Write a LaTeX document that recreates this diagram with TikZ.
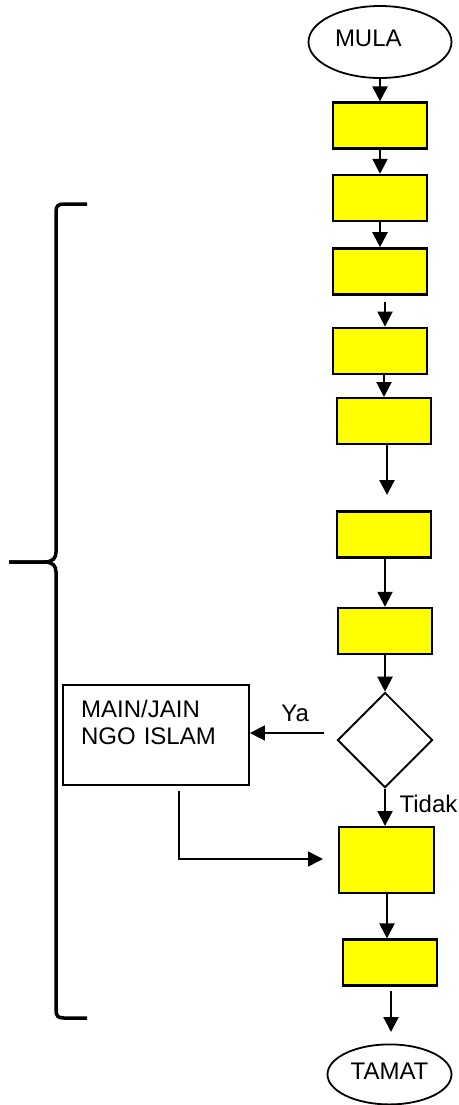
\documentclass[tikz,border=0pt]{standalone}
\usepackage{fontspec}
\setmainfont{Liberation Sans}
\usetikzlibrary{positioning,shapes.geometric,arrows.meta}
\definecolor{procyellow}{RGB}{255,255,0}

\begin{document}
\begin{tikzpicture}[x=1pt, y=-1pt,
            font=\fontsize{24}{27}\selectfont,
            termnode/.style={ellipse, draw, line width=1.8pt, minimum width=143pt, minimum height=72pt, inner sep=0pt, text height=17pt, text depth=7pt},
            procnode/.style={rectangle, draw, fill=procyellow, line width=2.4pt, minimum width=93.5pt, minimum height=46pt, inner sep=0pt},
            decnode/.style={diamond, draw, line width=1.8pt, minimum width=95pt, minimum height=95pt, inner sep=0pt},
            infonode/.style={rectangle, draw, line width=1.5pt, inner xsep=18pt, inner ysep=0pt, text width=150pt, align=left, text height=32pt, text depth=68pt},
            flow/.style={line width=2.2pt, -{Triangle[length=15pt, width=15pt]}},
            thinflow/.style={line width=1.5pt, -{Triangle[length=15pt, width=15pt]}},
        ]
            \useasboundingbox (0,0) rectangle (458,1105);

            %Nodes
            \node[termnode, text width=90pt, align=left](mula) at (380,42) {MULA};
            \node[procnode](proc1)[below=22.5pt of mula] {};
            \node[procnode](proc2)[below=24pt of proc1] {};
            \node[procnode](proc3)[below=25pt of proc2] {};
            \node[procnode](proc4)[below=31pt of proc3] {};
            \node[procnode](proc5)[below=22pt of proc4, xshift=4pt] {};
            \node[procnode](proc6)[below=65pt of proc5] {};
            \node[procnode](proc7)[below=48pt of proc6, xshift=1pt] {};
            \node[decnode](dec)[below=36.5pt of proc7] {};
            \node[infonode](info)[left=86.7pt of dec, yshift=5pt] {MAIN/JAIN\\NGO ISLAM};
            \node[procnode, minimum width=95pt, minimum height=66pt](proc8)[below=37.5pt of dec, xshift=1.5pt] {};
            \node[procnode](proc9)[below=44pt of proc8, xshift=3.5pt] {};
            \node[termnode, minimum width=124pt, minimum height=60pt](tamat)[below=56.7pt of proc9, xshift=-0.5pt] {TAMAT};

            \coordinate (gap3) at (385,302);
            \coordinate (gap5) at (387,495);
            \coordinate (gap9a) at (391,991);
            \coordinate (gap9b) at (391,1032);
            \coordinate (yastart) at (324,733);
            \coordinate (ngoout) at (179,791);
            \coordinate (ngoin) at (323,859);

            %Lines
            \draw[flow](mula) -- (proc1);
            \draw[flow](proc1) -- (proc2);
            \draw[flow](proc2) -- (proc3);
            \draw[flow](gap3) -- (gap3 |- proc4.north);
            \draw[flow](proc5.north |- proc4.south) -- (proc5.north);
            \draw[flow]([xshift=3pt]proc5.south) -- (gap5);
            \draw[flow](proc7.north |- proc6.south) -- (proc7.north);
            \draw[flow](proc7) -- (dec);
            \draw[flow](dec) -- (dec |- proc8.north) node[pos=0.645, anchor=base west, inner sep=0pt, xshift=13.5pt] {Tidak};
            \draw[flow]([xshift=0.5pt]proc8.south) -- ([xshift=0.5pt]proc8.south |- proc9.north);
            \draw[flow](gap9a) -- (gap9b);
            \draw[thinflow](yastart) -- (yastart -| info.east) node[pos=0.39, anchor=base, inner sep=0pt, yshift=11.3pt] {Ya};
            \draw[thinflow](ngoout) |- (ngoin);

            %Brace
            \draw[line width=3.5pt] (87,204) -- (64,204) .. controls (58,204) and (56,206) .. (56,212) -- (56,552) .. controls (56,558) and (53,562) .. (44,562) -- (9,562);
            \draw[line width=3.5pt] (9,562) -- (44,562) .. controls (53,562) and (56,566) .. (56,572) -- (56,1010) .. controls (56,1016) and (58,1018) .. (64,1018) -- (87,1018);
        \end{tikzpicture}
\end{document}
